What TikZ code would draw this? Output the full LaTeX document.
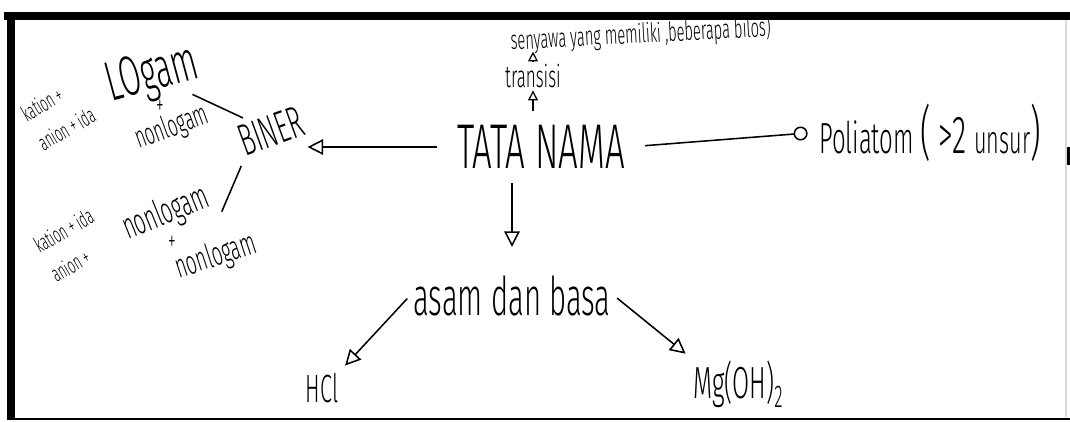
\documentclass[tikz,border=0pt]{standalone}
\usepackage{fontspec}
\setmainfont{Fira Sans Light}[FakeStretch=0.55]
\usetikzlibrary{arrows.meta,positioning}

\newcommand{\handsize}[1]{\fontsize{#1}{#1}\selectfont}

\begin{document}
\begin{tikzpicture}[x=0.025cm, y=-0.025cm,
    hand/.style={inner sep=2pt, font=\handsize{#1}},
    note/.style={inner sep=1pt, align=left, rotate=30, font=\fontsize{16}{24}\selectfont},
    arrow/.style={-{Triangle[open, length=11pt, width=11pt]}, line width=1.1pt},
    smallarrow/.style={-{Triangle[open, length=7pt, width=7pt]}, line width=0.9pt},
    roundarrow/.style={-{Circle[open, length=10pt]}, line width=1.1pt},
    link/.style={line width=1.1pt}
]
\useasboundingbox (0,0) rectangle (1070,421);
% scan frame
\fill (4,12) rectangle (1070,20);
\fill (7,12) rectangle (15,420);
\fill (7,417.5) rectangle (1070,420);
\fill (1065,147) rectangle (1070,165);
\draw[black!15, line width=1pt] (1066,20) -- (1066,417);

% centre and branches
\node[hand=45] (tata) at (541,147) {TATA NAMA};
\node[hand=32, rotate=20] (biner) at (271,131) {BINER};
\node[hand=31, anchor=base west] (poli) at (816,153) {Poliatom {\handsize{42}(}\,{\handsize{38}>2}\,{\handsize{28}unsur}{\handsize{42})}};
\node[hand=22, anchor=base] (trans) at (533,87) {transisi};
\node[hand=19, anchor=base west, rotate=3] (seny) at (508,50) {senyawa yang memiliki ,beberapa bilos)};
\node[hand=38, anchor=base] (asam) at (512,315) {asam dan basa};
\node[hand=28, anchor=base] (hcl) at (322,402) {HCl};
\node[hand=32, anchor=base west] (mg) at (690,398) {Mg(OH)\textsubscript{2}};

% biner side
\node[hand=40, rotate=15] (lg) at (153,76) {LOgam};
\node[hand=20] (pl1) at (160,107) {+};
\node[hand=22, rotate=20] (nl1) at (172,128) {nonlogam};
\node[note] (ka1) at (58,114) {kation +\\anion + ida};
\node[hand=26, rotate=22] (nl2) at (166,214) {nonlogam};
\node[hand=20] (pl2) at (172,243) {+};
\node[hand=24, rotate=18] (nl3) at (216,257) {nonlogam};
\node[note] (ka2) at (72,245) {kation + ida\\anion +};

\draw[arrow, shorten <=12pt, shorten >=2pt] (tata.west) -- (tata.west -| biner.east);
\draw[roundarrow, shorten <=12pt, shorten >=6pt] (tata.east) -- (poli.west);
\draw[smallarrow, shorten <=8pt] (tata.north -| trans) -- (trans);
\draw[smallarrow] (trans) -- (trans |- seny.south);
\draw[arrow, shorten <=8pt, shorten >=18pt] (tata.south -| asam.north) -- (asam.north);
\draw[arrow, shorten <=3pt, shorten >=4pt] (asam.west) -- (hcl.north east);
\draw[arrow, shorten <=3pt, shorten >=4pt] (asam.east) -- (mg.north west);
\draw[link, shorten <=31pt, shorten >=22pt] (lg.center) -- (biner.center);
\draw[link, shorten <=4pt, shorten >=21pt] (biner.south west) -- (nl3.north);
\end{tikzpicture}
\end{document}
